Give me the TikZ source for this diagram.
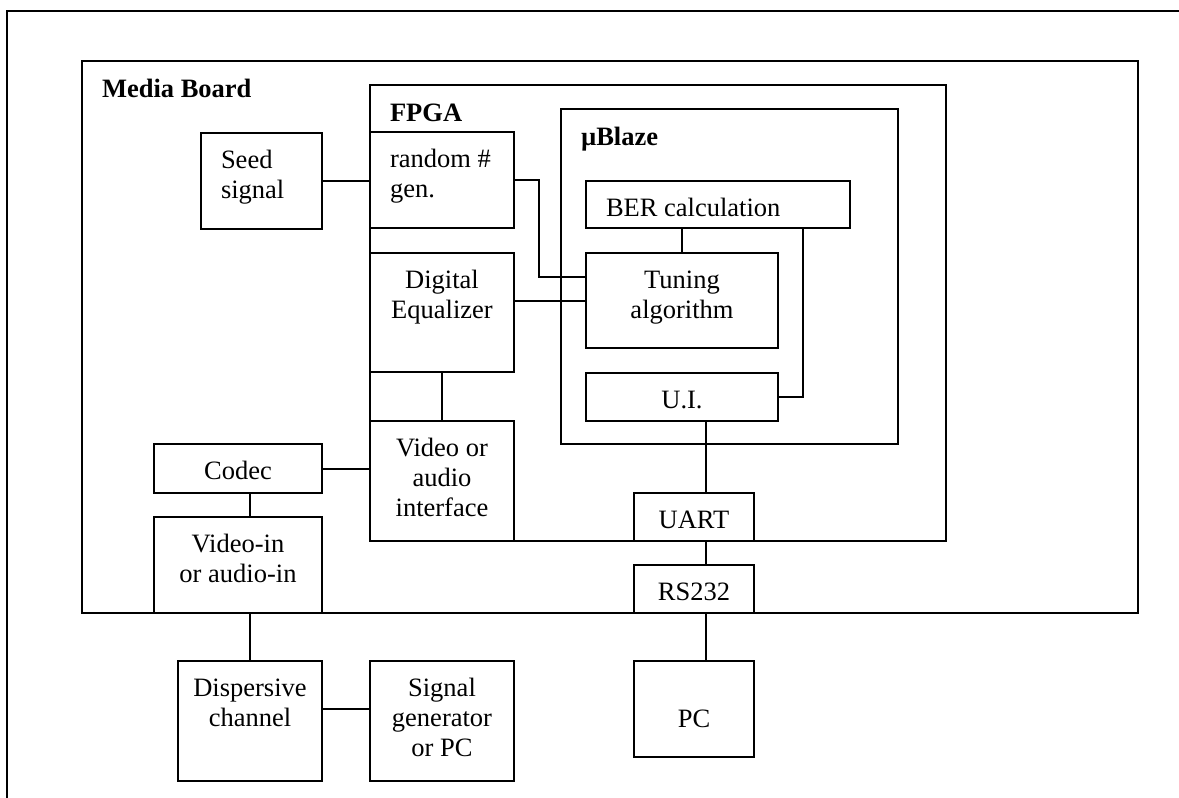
\documentclass[tikz,border=0pt]{standalone}
\usepackage{fontspec}
\setmainfont{Liberation Serif}
\begin{document}
\begin{tikzpicture}[x=1pt,y=-1pt,line width=2pt,
    font=\fontsize{26.5}{30}\selectfont,
    blk/.style={draw, anchor=north west, inner sep=0pt},
    ctr/.style={anchor=north, yshift=-14pt, align=center, inner sep=0pt},
    lft/.style={anchor=north west, xshift=20pt, yshift=-14pt, align=left, inner sep=0pt},
    ttl/.style={anchor=north west, xshift=20pt, yshift=-15pt, inner sep=0pt,
        font=\fontsize{26.5}{30}\selectfont\bfseries}]
    \useasboundingbox (0,0) rectangle (1179,798);
    % Outer frame
    \draw[line width=2.5pt] (1179,11) -- (7,11) -- (7,798);
    % Media board, FPGA, uBlaze
    \node[blk, minimum width=1056pt, minimum height=552pt, label={[ttl]north west:\strut Media Board}] (board) at (81,60) {};
    \node[blk, minimum width=576pt, minimum height=456pt, label={[ttl]north west:\strut FPGA}] (fpga) at (369,84) {};
    \node[blk, minimum width=337pt, minimum height=335pt, label={[ttl]north west:\strut µBlaze}] (ublaze) at (560,108) {};
    % Blocks on the board
    \node[blk, minimum width=121pt, minimum height=96pt, label={[lft]north west:\strut Seed\\signal}] (seed) at (200,132) {};
    \node[blk, minimum width=144pt, minimum height=96pt, label={[lft]north west:\strut random \#\\gen.}] (rng) at (369,131) {};
    \node[blk, minimum width=144pt, minimum height=119pt, label={[ctr]north:\strut Digital\\Equalizer}] (eq) at (369,252) {};
    \node[blk, minimum width=144pt, minimum height=120pt, label={[ctr]north:\strut Video or\\audio\\interface}] (vif) at (369,420) {};
    \node[blk, minimum width=264pt, minimum height=47pt, label={[lft]north west:\strut BER calculation}] (ber) at (585,180) {};
    \node[blk, minimum width=192pt, minimum height=95pt, label={[ctr]north:\strut Tuning\\algorithm}] (tune) at (585,252) {};
    \node[blk, minimum width=192pt, minimum height=48pt, label={[ctr]north:\strut U.I.}] (ui) at (585,372) {};
    \node[blk, minimum width=120pt, minimum height=48pt, label={[ctr]north:\strut UART}] (uart) at (633,492) {};
    \node[blk, minimum width=120pt, minimum height=48pt, label={[ctr]north:\strut RS232}] (rs) at (633,564) {};
    \node[blk, minimum width=168pt, minimum height=49pt, label={[ctr]north:\strut Codec}] (codec) at (153,443) {};
    \node[blk, minimum width=168pt, minimum height=96pt, label={[ctr]north:\strut Video-in\\or audio-in}] (vin) at (153,516) {};
    % Outside the board
    \node[blk, minimum width=144pt, minimum height=120pt, label={[ctr]north:\strut Dispersive\\channel}] (disp) at (177,660) {};
    \node[blk, minimum width=144pt, minimum height=120pt, label={[ctr]north:\strut Signal\\generator\\or PC}] (sgen) at (369,660) {};
    \node[blk, minimum width=120pt, minimum height=96pt, label={[ctr, yshift=-31pt]north:\strut PC}] (pc) at (633,660) {};
    % Connections
    \draw (seed.east) -- (seed.east -| rng.west);
    \draw (rng.east) -- ++(24,0) |- ([yshift=23.5pt]tune.west);
    \draw (tune.west) -- (tune.west -| eq.east);
    \draw (tune.north) -- (tune.north |- ber.south);
    \draw (ui.east) -| ([xshift=-48pt]ber.south east);
    \draw (eq.south) -- (vif.north);
    \draw (codec.east) -- (codec.east -| vif.west);
    \draw (disp.north |- codec.south) -- (disp.north |- vin.north);
    \draw (disp.north) -- (disp.north |- vin.south);
    \draw ([yshift=12pt]disp.east) -- ([yshift=12pt]disp.east -| sgen.west);
    \draw ([xshift=12pt]uart.north) -- ([xshift=12pt]uart.north |- ui.south);
    \draw ([xshift=12pt]rs.north) -- ([xshift=12pt]uart.south);
    \draw ([xshift=12pt]pc.north) -- ([xshift=12pt]rs.south);
\end{tikzpicture}
\end{document}
